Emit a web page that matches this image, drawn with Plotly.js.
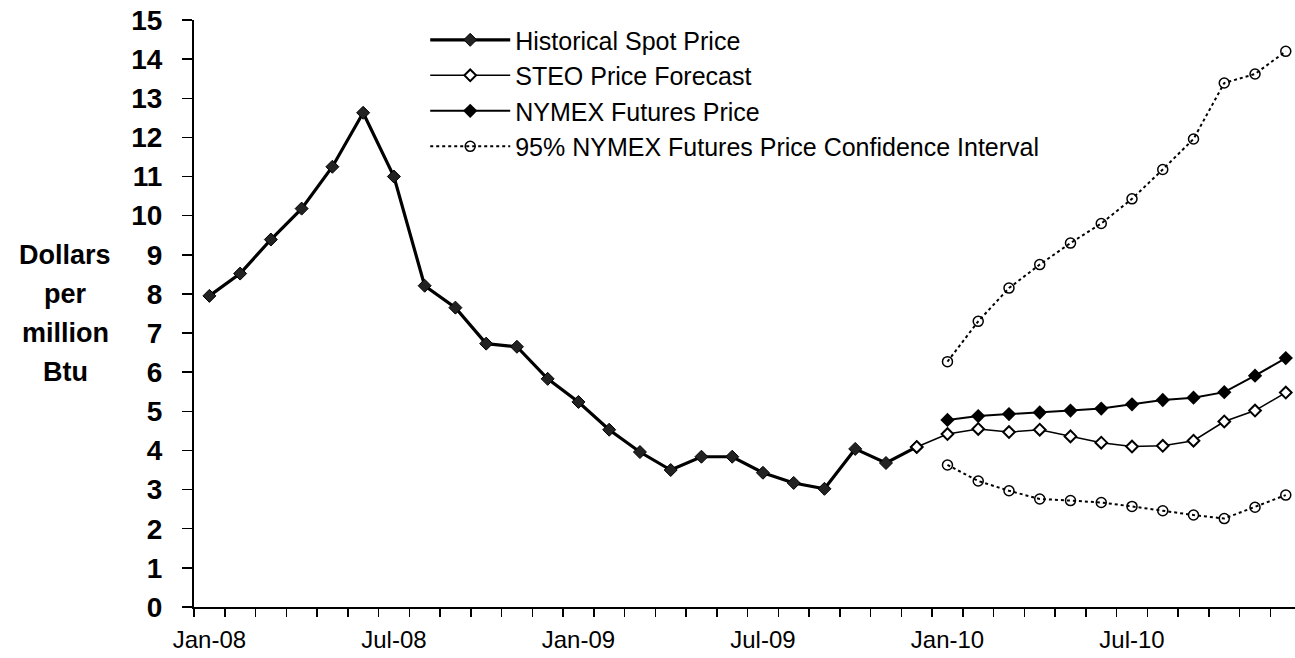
<!DOCTYPE html>
<html>
<head>
<meta charset="utf-8">
<script src="https://cdn.plot.ly/plotly-3.0.1.min.js"></script>
<style>html,body{margin:0;padding:0;background:#fff;}#chart{width:1295px;height:658px;}</style>
</head>
<body>
<div id="chart"></div>
<script>
// Month categories
const months = [
  "Jan-08","Feb-08","Mar-08","Apr-08","May-08","Jun-08","Jul-08","Aug-08","Sep-08","Oct-08","Nov-08","Dec-08",
  "Jan-09","Feb-09","Mar-09","Apr-09","May-09","Jun-09","Jul-09","Aug-09","Sep-09","Oct-09","Nov-09","Dec-09",
  "Jan-10","Feb-10","Mar-10","Apr-10","May-10","Jun-10","Jul-10","Aug-10","Sep-10","Oct-10","Nov-10","Dec-10"
];
const tickLabels = ["Jan-08","Jul-08","Jan-09","Jul-09","Jan-10","Jul-10"];

// Historical spot price Jan-08 .. Dec-09
const historicalMonths = months.slice(0, 24);
const historical = [7.95, 8.52, 9.39, 10.18, 11.25, 12.63, 11.0, 8.21, 7.65, 6.73, 6.65, 5.83,
                    5.24, 4.53, 3.96, 3.50, 3.84, 3.84, 3.43, 3.17, 3.02, 4.04, 3.68, 4.09];

// STEO forecast Dec-09 .. Dec-10
const steoMonths = months.slice(23, 36);
const steo = [4.09, 4.42, 4.55, 4.47, 4.53, 4.36, 4.20, 4.10, 4.12, 4.25, 4.74, 5.02, 5.48];

// NYMEX futures and 95% confidence interval, Jan-10 .. Dec-10
const futMonths = months.slice(24, 36);
const nymex = [4.78, 4.88, 4.93, 4.97, 5.02, 5.07, 5.18, 5.29, 5.35, 5.49, 5.91, 6.36];
const ciUpper = [6.27, 7.30, 8.15, 8.75, 9.30, 9.80, 10.43, 11.18, 11.96, 13.39, 13.62, 14.20];
const ciLower = [3.63, 3.22, 2.97, 2.76, 2.72, 2.67, 2.57, 2.46, 2.35, 2.26, 2.55, 2.86];

const idx = arr => arr.map(m => months.indexOf(m));

const traces = [
  {x: idx(historicalMonths), y: historical, name: "Historical Spot Price", mode: "lines+markers",
   line: {color: "#000", width: 3.2}, marker: {symbol: "diamond", size: 10, color: "#222", line: {color: "#000", width: 1}}},
  {x: idx(steoMonths), y: steo, name: "STEO Price Forecast", mode: "lines+markers",
   line: {color: "#000", width: 1.5}, marker: {symbol: "diamond", size: 9, color: "#fff", line: {color: "#000", width: 2}}},
  {x: idx(futMonths), y: nymex, name: "NYMEX Futures Price", mode: "lines+markers",
   line: {color: "#000", width: 2}, marker: {symbol: "diamond", size: 11, color: "#000"}},
  {x: idx(futMonths), y: ciUpper, name: "95% NYMEX Futures Price Confidence Interval", mode: "lines+markers",
   line: {color: "#000", width: 2, dash: "dot"}, marker: {symbol: "circle-open", size: 10, color: "#000", line: {width: 1.5}}},
  {x: idx(futMonths), y: ciLower, name: "95% lower", mode: "lines+markers", showlegend: false,
   line: {color: "#000", width: 2, dash: "dot"}, marker: {symbol: "circle-open", size: 10, color: "#000", line: {width: 1.5}}}
];

const F = "Liberation Sans, Arial, sans-serif";
const yTitle = ["Dollars", "per", "million", "Btu"];
const annotations = yTitle.map((t, i) => ({
  text: t, xref: "paper", yref: "y", x: -0.117, y: 9 - i, xanchor: "center", yanchor: "middle",
  showarrow: false, font: {family: F, size: 27, color: "#000", weight: "bold"}
}));

const layout = {
  width: 1295, height: 658,
  margin: {l: 194, r: 0, t: 20, b: 51},
  paper_bgcolor: "#fff", plot_bgcolor: "#fff",
  showlegend: true,
  legend: {x: 0.21, y: 1.005, xanchor: "left", yanchor: "top", bgcolor: "rgba(0,0,0,0)",
           font: {family: F, size: 25, color: "#000"}, itemwidth: 80, tracegroupgap: 0},
  xaxis: {
    range: [-0.5, 35.3], showgrid: false, zeroline: false,
    showline: true, linecolor: "#000", linewidth: 2,
    tickmode: "array", tickvals: idx(tickLabels), ticktext: tickLabels,
    ticks: "", ticklabelstandoff: 10,
    tickfont: {family: F, size: 24, color: "#000"},
    minor: {tick0: -0.5, dtick: 1, ticks: "outside", ticklen: 8, tickcolor: "#000", tickwidth: 1.5, showgrid: false}
  },
  yaxis: {
    range: [0, 15], dtick: 1, showgrid: false, zeroline: false,
    showline: true, linecolor: "#000", linewidth: 2,
    ticks: "outside", ticklen: 10, tickcolor: "#000", tickwidth: 1.5, ticklabelstandoff: 14,
    tickfont: {family: F, size: 28, color: "#000", weight: "bold"}
  },
  annotations: annotations
};

Plotly.newPlot("chart", traces, layout, {displayModeBar: false, staticPlot: true});
</script>
</body>
</html>
